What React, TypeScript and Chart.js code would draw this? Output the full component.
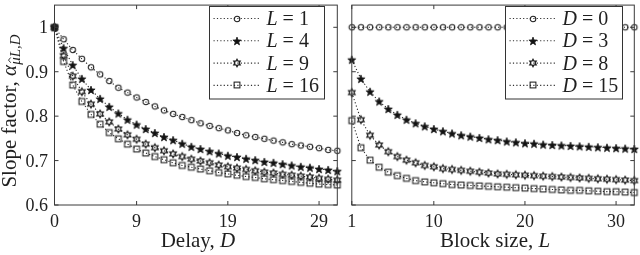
import React, { useEffect, useRef } from 'react';
import { Chart, registerables } from 'chart.js';

Chart.register(...registerables);

// ---------- data ----------
const DELAYS = [0, 1, 2, 3, 4, 5, 6, 7, 8, 9, 10, 11, 12, 13, 14, 15, 16, 17, 18, 19, 20, 21, 22, 23, 24, 25, 26, 27, 28, 29, 30, 31];
const BLOCK_SIZES = [1, 2, 3, 4, 5, 6, 7, 8, 9, 10, 11, 12, 13, 14, 15, 16, 17, 18, 19, 20, 21, 22, 23, 24, 25, 26, 27, 28, 29, 30, 31, 32];

// Left panel: slope factor vs delay D, for block sizes L
const SLOPE_L1 = [1, 0.973, 0.949, 0.929, 0.91, 0.894, 0.879, 0.864, 0.853, 0.842, 0.832, 0.822, 0.813, 0.805, 0.798, 0.791, 0.784, 0.778, 0.773, 0.768, 0.762, 0.757, 0.753, 0.749, 0.745, 0.741, 0.737, 0.734, 0.731, 0.728, 0.724, 0.722];
const SLOPE_L4 = [1, 0.953, 0.915, 0.884, 0.859, 0.839, 0.821, 0.806, 0.792, 0.781, 0.771, 0.762, 0.753, 0.746, 0.738, 0.731, 0.726, 0.721, 0.716, 0.711, 0.708, 0.704, 0.701, 0.697, 0.695, 0.692, 0.689, 0.686, 0.684, 0.681, 0.679, 0.676];
const SLOPE_L9 = [1, 0.936, 0.89, 0.855, 0.827, 0.805, 0.787, 0.771, 0.758, 0.748, 0.737, 0.729, 0.722, 0.715, 0.709, 0.703, 0.699, 0.695, 0.69, 0.686, 0.683, 0.68, 0.677, 0.674, 0.672, 0.669, 0.667, 0.665, 0.663, 0.66, 0.658, 0.656];
const SLOPE_L16 = [1, 0.923, 0.87, 0.833, 0.804, 0.782, 0.763, 0.749, 0.737, 0.726, 0.717, 0.709, 0.702, 0.695, 0.689, 0.685, 0.681, 0.677, 0.673, 0.67, 0.667, 0.664, 0.662, 0.659, 0.657, 0.655, 0.653, 0.651, 0.649, 0.647, 0.646, 0.645];

// Right panel: slope factor vs block size L, for delays D
const SLOPE_D0 = [1, 1, 1, 1, 1, 1, 1, 1, 1, 1, 1, 1, 1, 1, 1, 1, 1, 1, 1, 1, 1, 1, 1, 1, 1, 1, 1, 1, 1, 1, 1, 1];
const SLOPE_D3 = [0.927, 0.884, 0.855, 0.833, 0.816, 0.803, 0.792, 0.784, 0.777, 0.771, 0.766, 0.761, 0.757, 0.754, 0.751, 0.748, 0.746, 0.743, 0.741, 0.739, 0.738, 0.736, 0.735, 0.734, 0.733, 0.732, 0.731, 0.73, 0.729, 0.728, 0.727, 0.726];
const SLOPE_D8 = [0.853, 0.792, 0.757, 0.735, 0.72, 0.709, 0.701, 0.695, 0.689, 0.686, 0.682, 0.68, 0.678, 0.676, 0.674, 0.672, 0.67, 0.669, 0.668, 0.667, 0.666, 0.665, 0.664, 0.663, 0.662, 0.661, 0.66, 0.659, 0.658, 0.657, 0.656, 0.655];
const SLOPE_D15 = [0.79, 0.729, 0.701, 0.685, 0.674, 0.666, 0.66, 0.655, 0.652, 0.65, 0.648, 0.646, 0.645, 0.644, 0.643, 0.642, 0.641, 0.64, 0.639, 0.638, 0.637, 0.636, 0.635, 0.634, 0.633, 0.633, 0.632, 0.631, 0.63, 0.63, 0.629, 0.628];

const LEFT_LEGEND_VALUES = ['1', '4', '9', '16'];
const RIGHT_LEGEND_VALUES = ['0', '3', '8', '15'];
const LEFT_X_TICKS = [0, 9, 19, 29];
const RIGHT_X_TICKS = [1, 10, 20, 30];
const Y_TICKS = [0.6, 0.7, 0.8, 0.9, 1];
const Y_TICK_LABELS = ['0.6', '0.7', '0.8', '0.9', '1'];

// ---------- styling ----------
const SERIF = '"Liberation Serif", "Times New Roman", serif';
const INK = '#1f1f1f';
const FRAME = '#3a3a3a';
const TICK_FONT = 18;
const TITLE_FONT = 21;
const LEGEND_FONT = 20;

type MarkerKind = 'circle' | 'pentagram' | 'hexagram' | 'square';
const MARKER_ORDER: MarkerKind[] = ['circle', 'pentagram', 'hexagram', 'square'];

function starPath(g: CanvasRenderingContext2D, cx: number, cy: number, n: number, ro: number, ri: number) {
  g.beginPath();
  for (let i = 0; i < 2 * n; i++) {
    const a = -Math.PI / 2 + (i * Math.PI) / n;
    const r = i % 2 === 0 ? ro : ri;
    const px = cx + r * Math.cos(a);
    const py = cy + r * Math.sin(a);
    if (i === 0) g.moveTo(px, py);
    else g.lineTo(px, py);
  }
  g.closePath();
}

const markerCache: Record<string, HTMLCanvasElement> = {};
function getMarker(kind: MarkerKind): HTMLCanvasElement {
  if (markerCache[kind]) return markerCache[kind];
  const c = document.createElement('canvas');
  c.width = 12;
  c.height = 12;
  const g = c.getContext('2d')!;
  const cx = 6;
  const cy = 6;
  g.strokeStyle = '#1e1e1e';
  g.lineWidth = 1.05;
  if (kind === 'circle') {
    g.beginPath();
    g.arc(cx, cy, 2.8, 0, Math.PI * 2);
    g.stroke();
  } else if (kind === 'pentagram') {
    starPath(g, cx, cy + 0.4, 5, 4.3, 1.8);
    g.fillStyle = '#111';
    g.fill();
    g.lineWidth = 0.8;
    g.stroke();
  } else if (kind === 'hexagram') {
    starPath(g, cx, cy, 6, 3.7, 2.1);
    g.lineWidth = 1.25;
    g.stroke();
  } else {
    g.strokeRect(cx - 2.9, cy - 2.9, 5.8, 5.8);
  }
  markerCache[kind] = c;
  return c;
}

type Part = { t: string; it?: boolean; size: number; dy?: number; hat?: boolean };
function fontOf(p: Part) {
  return `${p.it ? 'italic ' : ''}${p.size}px ${SERIF}`;
}
function partsWidth(ctx: CanvasRenderingContext2D, parts: Part[]) {
  let w = 0;
  for (const p of parts) {
    ctx.font = fontOf(p);
    w += ctx.measureText(p.t).width;
  }
  return w;
}
function drawParts(ctx: CanvasRenderingContext2D, parts: Part[], x0: number, y0: number) {
  let x = x0;
  for (const p of parts) {
    ctx.font = fontOf(p);
    const w = ctx.measureText(p.t).width;
    const by = y0 + (p.dy || 0);
    ctx.fillText(p.t, x, by);
    if (p.hat) {
      const cx = x + w / 2 + 1;
      const top = by - p.size * 0.5 - 3.5;
      ctx.beginPath();
      ctx.moveTo(cx - 2.6, top + 2.2);
      ctx.lineTo(cx, top);
      ctx.lineTo(cx + 2.6, top + 2.2);
      ctx.lineWidth = 0.9;
      ctx.strokeStyle = INK;
      ctx.stroke();
    }
    x += w;
  }
}

type PanelSpec = {
  key: string;
  left: number;
  width: number;
  padding: { left: number; right: number; top: number; bottom: number };
  xs: number[];
  series: number[][];
  xMin: number;
  xMax: number;
  xTicks: number[];
  showYLabels: boolean;
  xTitle: Part[];
  yTitle?: Part[];
  legendBox: { left: number; top: number; width: number; height: number };
  legendVar: string;
  legendValues: string[];
};

function makePanelPlugin(spec: PanelSpec) {
  return {
    id: 'panel_' + spec.key,
    afterDraw(chart: any) {
      const ctx: CanvasRenderingContext2D = chart.ctx;
      const a = chart.chartArea;
      const xs = chart.scales.x;
      const ys = chart.scales.y;
      ctx.save();
      // frame
      ctx.strokeStyle = FRAME;
      ctx.lineWidth = 1;
      ctx.strokeRect(a.left, a.top, a.right - a.left, a.bottom - a.top);
      // inner ticks
      const tl = 4;
      ctx.beginPath();
      for (const v of spec.xTicks) {
        const px = xs.getPixelForValue(v);
        ctx.moveTo(px, a.bottom);
        ctx.lineTo(px, a.bottom - tl);
        ctx.moveTo(px, a.top);
        ctx.lineTo(px, a.top + tl);
      }
      for (const v of Y_TICKS) {
        const py = ys.getPixelForValue(v);
        ctx.moveTo(a.left, py);
        ctx.lineTo(a.left + tl, py);
        ctx.moveTo(a.right, py);
        ctx.lineTo(a.right - tl, py);
      }
      ctx.stroke();
      // tick labels
      ctx.fillStyle = INK;
      ctx.font = `${TICK_FONT}px ${SERIF}`;
      ctx.textAlign = 'center';
      ctx.textBaseline = 'alphabetic';
      for (const v of spec.xTicks) {
        ctx.fillText(String(v), xs.getPixelForValue(v), 227);
      }
      if (spec.showYLabels) {
        ctx.textAlign = 'right';
        Y_TICKS.forEach((v, i) => {
          ctx.fillText(Y_TICK_LABELS[i], a.left - 6.5, ys.getPixelForValue(v) + 6);
        });
      }
      // x title
      ctx.textAlign = 'left';
      const xw = partsWidth(ctx, spec.xTitle);
      drawParts(ctx, spec.xTitle, (a.left + a.right) / 2 - xw / 2 + 2, 247);
      // y title
      if (spec.yTitle) {
        const yw = partsWidth(ctx, spec.yTitle);
        ctx.save();
        ctx.translate(15.5, 111 + yw / 2);
        ctx.rotate(-Math.PI / 2);
        drawParts(ctx, spec.yTitle, 0, 0);
        ctx.restore();
      }
      // legend
      const b = spec.legendBox;
      ctx.fillStyle = '#ffffff';
      ctx.fillRect(b.left, b.top, b.width, b.height);
      ctx.strokeStyle = '#333';
      ctx.lineWidth = 1;
      ctx.strokeRect(b.left, b.top, b.width, b.height);
      spec.legendValues.forEach((val, i) => {
        const cy = b.top + 12 + i * 22.3;
        ctx.save();
        ctx.setLineDash([1.2, 2.2]);
        ctx.strokeStyle = '#333';
        ctx.lineWidth = 1.1;
        ctx.beginPath();
        ctx.moveTo(b.left + 4, cy);
        ctx.lineTo(b.left + 50, cy);
        ctx.stroke();
        ctx.restore();
        const m = getMarker(MARKER_ORDER[i]);
        ctx.drawImage(m, Math.round(b.left + 27 - m.width / 2), Math.round(cy - m.height / 2));
        ctx.fillStyle = INK;
        ctx.textAlign = 'left';
        drawParts(
          ctx,
          [
            { t: spec.legendVar, it: true, size: LEGEND_FONT },
            { t: ' = ', size: LEGEND_FONT },
            { t: val, size: LEGEND_FONT },
          ],
          b.left + 57,
          cy + 6.5
        );
      });
      ctx.restore();
    },
  };
}

function Panel({ spec }: { spec: PanelSpec }) {
  const ref = useRef<HTMLCanvasElement>(null);
  useEffect(() => {
    const canvas = ref.current!;
    const datasets = spec.series.map((vals, si) => ({
      data: spec.xs.map((x, i) => ({ x, y: vals[i] })),
      showLine: true,
      borderColor: '#2a2a2a',
      borderWidth: 1.1,
      borderDash: [1.2, 2.2],
      pointStyle: getMarker(MARKER_ORDER[si]) as any,
      pointRadius: 4,
      pointHoverRadius: 4,
      tension: 0,
      fill: false,
      clip: false as any,
    }));
    const chart = new Chart(canvas, {
      type: 'line',
      data: { datasets },
      options: {
        responsive: false,
        animation: false,
        devicePixelRatio: 1,
        events: [],
        layout: { padding: spec.padding },
        scales: {
          x: { type: 'linear', min: spec.xMin, max: spec.xMax, display: false },
          y: { type: 'linear', min: 0.6, max: 1.05, display: false },
        },
        plugins: { legend: { display: false }, tooltip: { enabled: false } },
      },
      plugins: [makePanelPlugin(spec)],
    } as any);
    return () => chart.destroy();
  }, [spec]);
  return (
    <canvas
      ref={ref}
      width={spec.width}
      height={255}
      style={{ position: 'absolute', left: spec.left, top: 0, width: spec.width, height: 255 }}
    />
  );
}

const LEFT_SPEC: PanelSpec = {
  key: 'left',
  left: 0,
  width: 345,
  padding: { left: 54.5, right: 7.7, top: 2, bottom: 50 },
  xs: DELAYS,
  series: [SLOPE_L1, SLOPE_L4, SLOPE_L9, SLOPE_L16],
  xMin: 0,
  xMax: 31,
  xTicks: LEFT_X_TICKS,
  showYLabels: true,
  xTitle: [
    { t: 'Delay, ', size: TITLE_FONT },
    { t: 'D', it: true, size: TITLE_FONT },
  ],
  yTitle: [
    { t: 'Slope factor, ', size: TITLE_FONT },
    { t: 'α', it: true, size: TITLE_FONT },
    { t: 'μ', it: true, size: 15, dy: 4, hat: true },
    { t: 'L,D', it: true, size: 15, dy: 4 },
  ],
  legendBox: { left: 209.5, top: 6.5, width: 115, height: 92.5 },
  legendVar: 'L',
  legendValues: LEFT_LEGEND_VALUES,
};

const RIGHT_SPEC: PanelSpec = {
  key: 'right',
  left: 345,
  width: 295,
  padding: { left: 6.8, right: 5.7, top: 2, bottom: 50 },
  xs: BLOCK_SIZES,
  series: [SLOPE_D0, SLOPE_D3, SLOPE_D8, SLOPE_D15],
  xMin: 1,
  xMax: 32,
  xTicks: RIGHT_X_TICKS,
  showYLabels: false,
  xTitle: [
    { t: 'Block size, ', size: TITLE_FONT },
    { t: 'L', it: true, size: TITLE_FONT },
  ],
  legendBox: { left: 160.5, top: 6.5, width: 117, height: 92.5 },
  legendVar: 'D',
  legendValues: RIGHT_LEGEND_VALUES,
};

export default function App() {
  return (
    <div style={{ position: 'fixed', left: 0, top: 0, width: 640, height: 255, background: '#fff' }}>
      <Panel spec={LEFT_SPEC} />
      <Panel spec={RIGHT_SPEC} />
    </div>
  );
}
